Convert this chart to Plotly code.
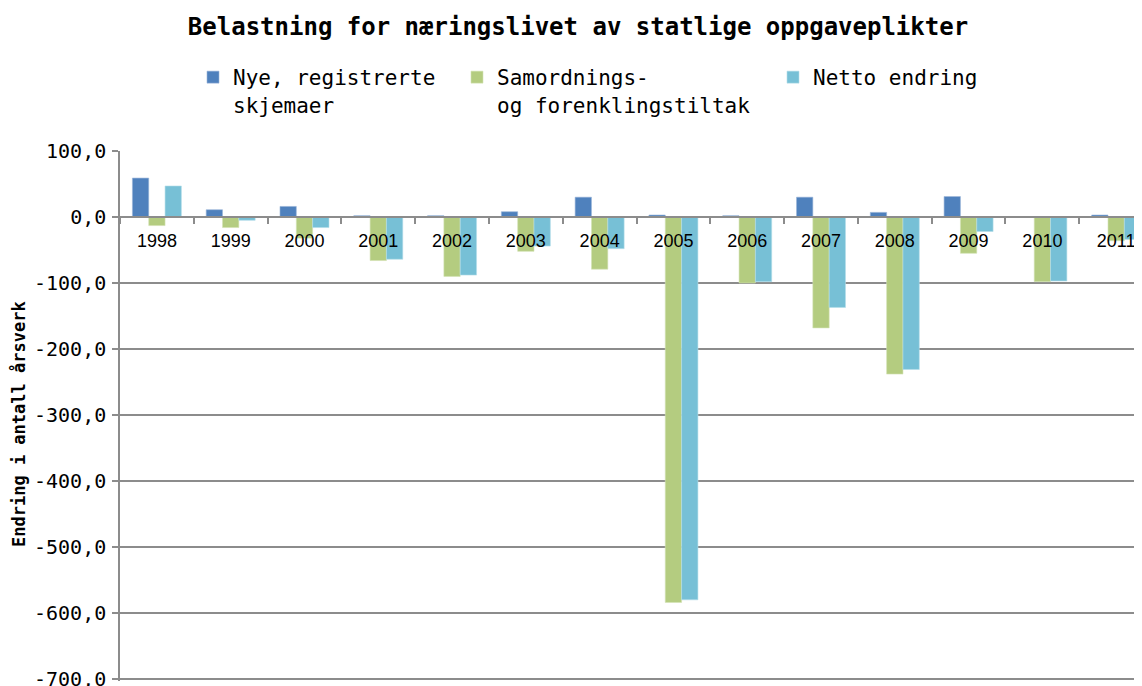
import plotly.graph_objs as go

years = ['1998', '1999', '2000', '2001', '2002', '2003', '2004',
         '2005', '2006', '2007', '2008', '2009', '2010', '2011']
nye = [59, 11, 16, 2, 2, 8, 30, 3, 2, 30, 7, 31, 0, 3]
samordning = [-13, -16, -32, -66, -90, -52, -79, -584, -100, -168, -238, -55, -98, -36]
netto = [47, -5, -16, -64, -88, -44, -48, -580, -98, -137, -231, -22, -97, -34]

y_ticks = [100, 0, -100, -200, -300, -400, -500, -600, -700]
y_tick_labels = ['100,0', '0,0', '-100,0', '-200,0', '-300,0', '-400,0',
                 '-500,0', '-600,0', '-700,0']

mono = 'DejaVu Sans Mono'
grid_color = '#8c8c8c'

# page has an 8px body margin, so the figure is 8px smaller than the window
W, H = 1134, 678
L, T, B = 112, 143, 5
PW, PH = W - L, H - T - B
y_min = -703

fig = go.Figure()
fig.add_trace(go.Bar(x=years, y=nye, name='Nye, registrerte<br>skjemaer', legend='legend',
                     marker_color='#4f81bd', marker_line=dict(color='#9bb5d8', width=0.6)))
fig.add_trace(go.Bar(x=years, y=samordning, name='Samordnings-<br>og forenklingstiltak',
                     legend='legend2',
                     marker_color='#b4cc80', marker_line=dict(color='#d3e2b5', width=0.6)))
fig.add_trace(go.Bar(x=years, y=netto, name='Netto endring', legend='legend3',
                     marker_color='#77c0d6', marker_line=dict(color='#b5dde9', width=0.6)))

legend_style = dict(orientation='h', xanchor='left', y=1 + (T - 49) / PH, yanchor='top',
                    font=dict(family=mono, size=21, color='black'),
                    itemwidth=30, valign='top', bgcolor='rgba(0,0,0,0)')

fig.update_layout(
    width=W, height=H,
    margin=dict(l=L, r=0, t=T, b=B, pad=0, autoexpand=False),
    plot_bgcolor='white', paper_bgcolor='white',
    barmode='group', bargap=0.336, bargroupgap=0,
    title=dict(text='<b>Belastning for næringslivet av statlige oppgaveplikter</b>',
               x=570 / W, xanchor='center', y=1 - 19 / H, yanchor='middle',
               font=dict(family=mono, size=24, color='black')),
    legend=dict(x=(195 - 10 - L) / PW, **legend_style),
    legend2=dict(x=(459 - 10 - L) / PW, **legend_style),
    legend3=dict(x=(775 - 10 - L) / PW, **legend_style),
    showlegend=True,
)

fig.update_xaxes(
    type='category', range=[-0.5, 13.35],
    anchor='free', position=-y_min / (100 - y_min), automargin=False,
    showline=True, linecolor=grid_color, linewidth=1.5,
    ticks='outside', tickson='boundaries', ticklen=6, tickcolor=grid_color, tickwidth=1.5,
    ticklabelstandoff=8,
    tickfont=dict(family='Liberation Sans', size=18, color='black'),
    showgrid=False,
)
fig.update_yaxes(
    range=[y_min, 100], tickvals=y_ticks, ticktext=y_tick_labels, automargin=False,
    showline=True, linecolor=grid_color, linewidth=1.5,
    ticks='outside', ticklen=6, tickcolor=grid_color, tickwidth=1.5,
    ticklabelstandoff=2, ticklabeloverflow='allow',
    showgrid=True, gridcolor=grid_color, gridwidth=1.5,
    zeroline=False,
    tickfont=dict(family=mono, size=20, color='black'),
)

fig.add_annotation(text='<b>Endring i antall årsverk</b>', textangle=-90,
                   xref='paper', yref='paper', x=(10 - L) / PW, y=(T + PH - 416) / PH,
                   xanchor='center', yanchor='middle', showarrow=False,
                   font=dict(family=mono, size=17, color='black'))

fig.write_html("out.html")
